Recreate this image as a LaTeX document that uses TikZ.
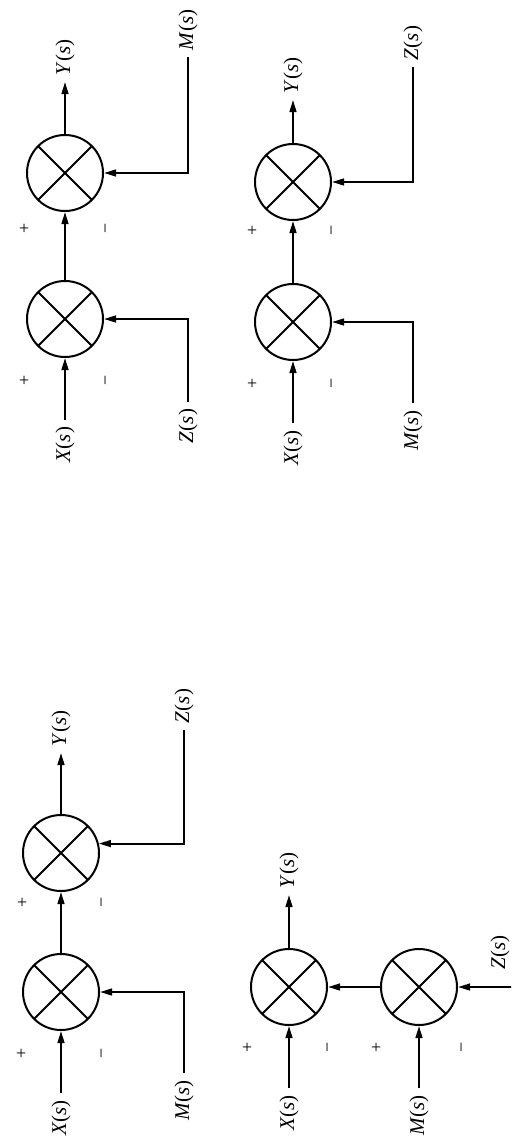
\documentclass[tikz,border=0pt]{standalone}
\usepackage{fontspec}
\setmainfont{Liberation Serif}
\usetikzlibrary{arrows.meta}
% signal name such as X(s)
\newcommand{\sigtxt}[1]{\textit{#1}(\textit{s})}
\begin{document}
\begin{tikzpicture}[x=0.5pt, y=-0.5pt, line width=1pt,
  summer/.style={circle, draw, minimum size=38pt, inner sep=0pt,
    path picture={\draw (path picture bounding box.north east) -- (path picture bounding box.south west)
                        (path picture bounding box.north west) -- (path picture bounding box.south east);}},
  lbl/.style={rotate=90, inner sep=0pt, outer sep=3.5pt, font=\fontsize{10.5}{12}\selectfont},
  sign/.style={rotate=90, inner sep=0pt, font=\fontsize{9}{10}\selectfont},
  arr/.style={-{Triangle[length=6pt,width=3.4pt]}}]
\fill[white] (0,0) rectangle (511,1140);
\useasboundingbox (0,0) rectangle (511,1140);
\clip (0,0) rectangle (511,1140);

% ---- X, then Z, then M
\node[summer] (A1) at (65,173) {};
\node[summer] (A2) at (65,319) {};
\node[lbl, anchor=west] (AY) at (65,82) {\sigtxt{Y}};
\node[lbl, anchor=west] (AM) at (188,57) {\sigtxt{M}};
\node[lbl, anchor=east] (AX) at (65,420) {\sigtxt{X}};
\node[lbl, anchor=east] (AZ) at (188,402) {\sigtxt{Z}};
\draw[arr] (AX.east) -- (A2.south);
\draw[arr] (A2.north) -- (A1.south);
\draw[arr] (A1.north) -- (AY.west);
\draw[arr] (AM.west) |- (A1.east);
\draw[arr] (AZ.east) |- (A2.east);
\node[sign] (Ap1) at (25,228) {+};
\node[sign] (Am1) at (108,228) {−};
\node[sign] (Ap2) at (25,380) {+};
\node[sign] (Am2) at (108,380) {−};

% ---- X, then M, then Z
\node[summer] (B1) at (293,182) {};
\node[summer] (B2) at (293,322) {};
\node[lbl, anchor=west] (BY) at (293,100) {\sigtxt{Y}};
\node[lbl, anchor=west] (BZ) at (413,67) {\sigtxt{Z}};
\node[lbl, anchor=east] (BX) at (293,423) {\sigtxt{X}};
\node[lbl, anchor=east] (BM) at (413,403) {\sigtxt{M}};
\draw[arr] (BX.east) -- (B2.south);
\draw[arr] (B2.north) -- (B1.south);
\draw[arr] (B1.north) -- (BY.west);
\draw[arr] (BZ.west) |- (B1.east);
\draw[arr] (BM.east) |- (B2.east);
\node[sign] (Bp1) at (253,230) {+};
\node[sign] (Bm1) at (334,230) {−};
\node[sign] (Bp2) at (253,383) {+};
\node[sign] (Bm2) at (334,383) {−};

% ---- X, then M, then Z (lower)
\node[summer] (C1) at (61,853) {};
\node[summer] (C2) at (61,992) {};
\node[lbl, anchor=west] (CY) at (61,753) {\sigtxt{Y}};
\node[lbl, anchor=west] (CZ) at (184,730) {\sigtxt{Z}};
\node[lbl, anchor=east] (CX) at (61,1093) {\sigtxt{X}};
\node[lbl, anchor=east] (CM) at (184,1073) {\sigtxt{M}};
\draw[arr] (CX.east) -- (C2.south);
\draw[arr] (C2.north) -- (C1.south);
\draw[arr] (C1.north) -- (CY.west);
\draw[arr] (CZ.west) |- (C1.14);
\draw[arr] (CM.east) |- (C2.east);
\node[sign] (Cp1) at (23,902) {+};
\node[sign] (Cm1) at (104,902) {−};
\node[sign] (Cp2) at (22,1053) {+};
\node[sign] (Cm2) at (104,1053) {−};

% ---- M and Z combined first, then subtracted from X
\node[summer] (D1) at (289,987) {};
\node[summer] (D2) at (419,987) {};
\node[lbl, anchor=west] (DY) at (289,895) {\sigtxt{Y}};
\node[lbl, anchor=east] (DX) at (289,1088) {\sigtxt{X}};
\node[lbl, anchor=east] (DM) at (419,1088) {\sigtxt{M}};
\node[lbl] (DZ) at (500,952) {\sigtxt{Z}};
\coordinate (DZin) at (530,987);
\draw[arr] (DX.east) -- (D1.south);
\draw[arr] (DM.east) -- (D2.south);
\draw[arr] (D2.west) -- (D1.east);
\draw[arr] (D1.north) -- (DY.west);
\draw[arr] (DZin) -- (D2.east);
\node[sign] (Dp1) at (248,1047) {+};
\node[sign] (Dm1) at (330,1047) {−};
\node[sign] (Dp2) at (377,1047) {+};
\node[sign] (Dm2) at (464,1047) {−};
\end{tikzpicture}
\end{document}
